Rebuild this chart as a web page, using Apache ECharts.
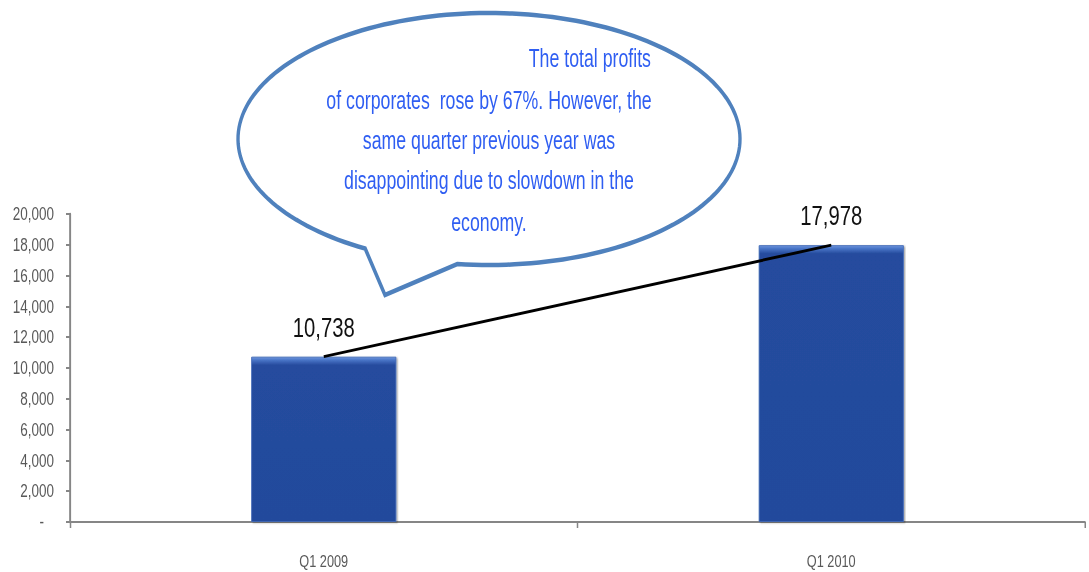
<!DOCTYPE html>
<html>
<head>
<meta charset="utf-8">
<script src="https://cdn.jsdelivr.net/npm/echarts@6/dist/echarts.min.js"></script>
<style>
  html, body { margin: 0; padding: 0; background: #ffffff; width: 1089px; height: 572px; overflow: hidden; }
  /* the chart is laid out wider and squeezed horizontally to get condensed lettering */
  #chart { width: 1452px; height: 572px; transform: scaleX(0.75); transform-origin: 0 0; }
</style>
</head>
<body>
<div id="chart"></div>
<script>
// Corporate profits by quarter
const categories = ['Q1 2009', 'Q1 2010'];
const profits = [10738, 17978];
const yTicks = { min: 0, max: 20000, interval: 2000 };

// Speech-bubble note
const noteLines = [
  'The total profits',
  'of corporates  rose by 67%. However, the',
  'same quarter previous year was',
  'disappointing due to slowdown in the',
  'economy.'
];

const SQUEEZE = 0.75;            // horizontal squeeze applied to the whole chart
const sx = v => v / SQUEEZE;     // on-screen x distance -> layout x distance
const FONT = '"Liberation Sans", Arial, sans-serif';
const GRID = { left: sx(70), right: sx(4), top: 214, bottom: 50 };
const PLOT_HEIGHT = 572 - GRID.top - GRID.bottom;

function withCommas(v) {
  return String(Math.round(v)).replace(/\B(?=(\d{3})+(?!\d))/g, ',');
}

// Bar fill with a bevelled, lighter band along the top edge (about 8px deep)
function bevelFill(value) {
  const barPx = value / (yTicks.max - yTicks.min) * PLOT_HEIGHT;
  const h = Math.min(0.5, 8 / barPx);
  return {
    type: 'linear', x: 0, y: 0, x2: 0, y2: 1,
    colorStops: [
      { offset: 0, color: '#6d95dc' },
      { offset: h * 0.35, color: '#4a76c8' },
      { offset: h, color: '#254c9e' },
      { offset: 1, color: '#234a9c' }
    ]
  };
}

// Outline of the speech bubble: an ellipse with a pointed tail at the lower left
function bubbleOutline() {
  const cx = sx(489), cy = 139, rx = sx(251), ry = 126;
  const tailRight = [sx(457), 265], tailTip = [sx(385), 295], tailLeft = [sx(367), 247];
  const angleOf = p => Math.atan2((p[1] - cy) / ry, (p[0] - cx) / rx);
  const a0 = angleOf(tailRight);
  let a1 = angleOf(tailLeft);
  if (a1 > a0) a1 -= Math.PI * 2;   // long way round
  const pts = [];
  const steps = 180;
  for (let i = 0; i <= steps; i++) {
    const a = a0 + (a1 - a0) * i / steps;
    pts.push([cx + rx * Math.cos(a), cy + ry * Math.sin(a)]);
  }
  pts.push(tailTip);
  return pts;
}

const chart = echarts.init(document.getElementById('chart'), null, { renderer: 'svg' });

// Bubble text anchors (screen x, y, align)
const noteAnchors = [
  { x: 651, y: 58, align: 'right' },
  { x: 489, y: 100, align: 'center' },
  { x: 489, y: 140, align: 'center' },
  { x: 489, y: 180, align: 'center' },
  { x: 489, y: 222, align: 'center' }
];

const noteTexts = noteLines.map((line, i) => ({
  type: 'text',
  x: sx(noteAnchors[i].x),
  y: noteAnchors[i].y,
  scaleX: 0.91,
  z: 20,
  style: {
    text: line,
    x: 0,
    y: 0,
    align: noteAnchors[i].align,
    verticalAlign: 'middle',
    fill: '#2f5ef2',
    font: '26px ' + FONT
  }
}));

const option = {
  backgroundColor: '#ffffff',
  animation: false,
  grid: GRID,
  xAxis: {
    type: 'category',
    data: categories,
    boundaryGap: true,
    axisLine: { show: true, lineStyle: { color: '#868686', width: 2 } },
    axisTick: { show: true, alignWithLabel: false, length: 6, lineStyle: { color: '#868686', width: 2 } },
    axisLabel: { color: '#595959', fontFamily: FONT, fontSize: 17, margin: 30 },
    splitLine: { show: false }
  },
  yAxis: {
    type: 'value',
    min: yTicks.min,
    max: yTicks.max,
    interval: yTicks.interval,
    axisLine: { show: true, lineStyle: { color: '#868686', width: 2.6 } },
    axisTick: { show: true, length: sx(4), lineStyle: { color: '#868686', width: 2 } },
    axisLabel: {
      color: '#595959',
      fontFamily: FONT,
      fontSize: 18,
      margin: sx(16),
      formatter: v => (v === 0 ? '{dash|-}' : withCommas(v)),
      rich: {
        dash: { color: '#595959', fontFamily: FONT, fontSize: 18, padding: [0, sx(10), 0, 0] }
      }
    },
    splitLine: { show: false }
  },
  series: [
    {
      type: 'bar',
      data: profits.map(v => ({ value: v, itemStyle: { color: bevelFill(v) } })),
      barWidth: sx(145),
      itemStyle: {
        borderColor: '#3f68b6',
        borderWidth: 1,
        shadowColor: 'rgba(0,0,0,0.3)',
        shadowBlur: 2,
        shadowOffsetX: 2,
        shadowOffsetY: 1
      },
      label: {
        show: true,
        position: 'top',
        distance: 16,
        color: '#111111',
        fontFamily: FONT,
        fontSize: 27,
        formatter: p => withCommas(p.value)
      },
      z: 2
    },
    {
      type: 'line',
      data: profits,
      symbol: 'none',
      lineStyle: { color: '#000000', width: 3 },
      z: 5
    }
  ],
  graphic: [
    {
      type: 'polygon',
      z: 10,
      shape: { points: bubbleOutline() },
      style: { fill: '#ffffff', stroke: '#4f81bd', lineWidth: 4.5, lineJoin: 'miter' }
    }
  ].concat(noteTexts)
};

chart.setOption(option);
</script>
</body>
</html>
